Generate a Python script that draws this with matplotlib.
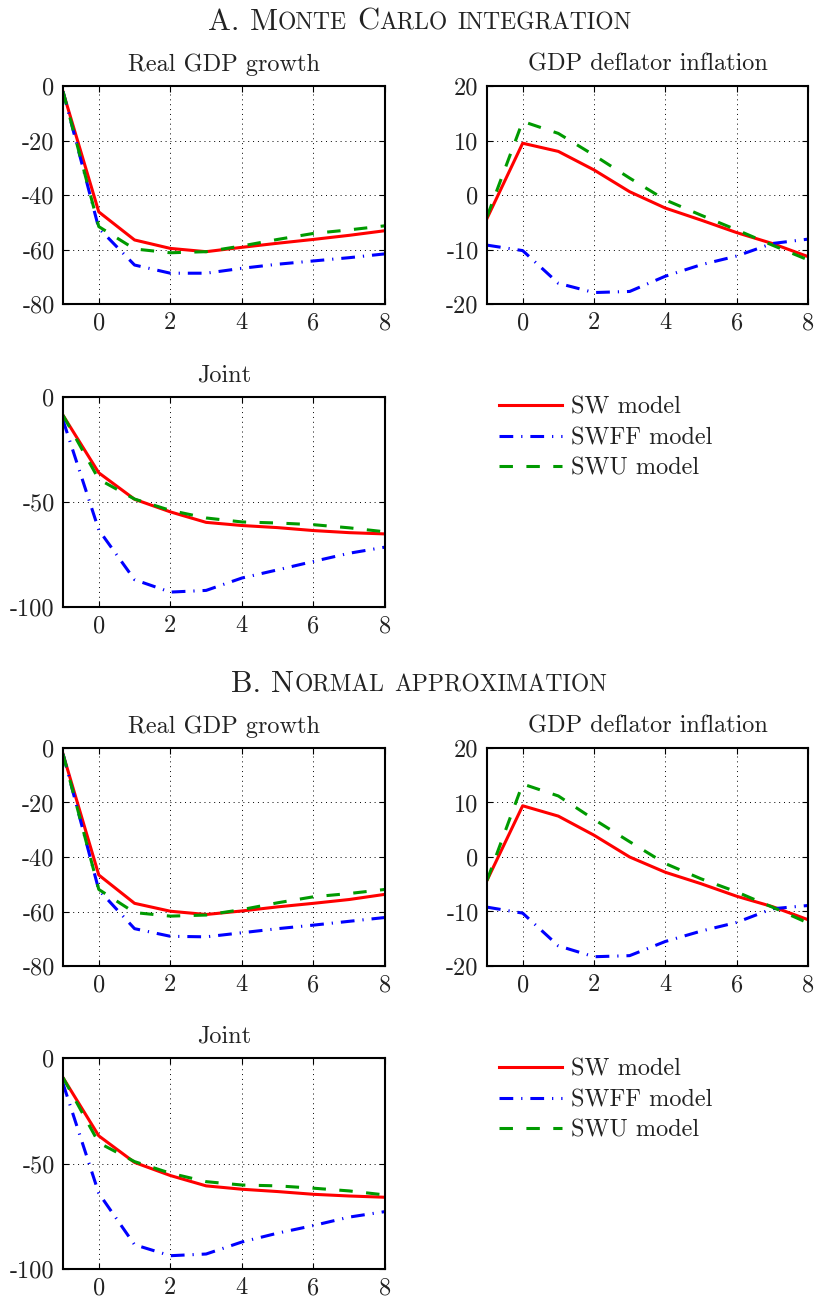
import numpy as np
import matplotlib
matplotlib.use("Agg")
import matplotlib.pyplot as plt
from matplotlib.lines import Line2D

plt.rcParams['font.family'] = ['cmr10', 'DejaVu Serif']
plt.rcParams['axes.unicode_minus'] = False

horizons = [-1, 0, 1, 2, 3, 4, 5, 6, 7, 8]
models = ['SW model', 'SWFF model', 'SWU model']

# A. Monte Carlo integration
gdp_sw_a = [-2.1, -46.2, -56.5, -59.6, -60.8, -59.2, -57.7, -56.3, -54.8, -53.1]
gdp_swff_a = [-2.0, -52.2, -65.7, -68.7, -68.7, -66.9, -65.4, -64.2, -63.0, -61.6]
gdp_swu_a = [-2.0, -51.6, -59.8, -61.2, -60.8, -58.7, -56.3, -54.1, -52.8, -51.3]

inf_sw_a = [-4.3, 9.5, 8.0, 4.6, 0.6, -2.4, -4.6, -6.9, -8.9, -11.3]
inf_swff_a = [-9.2, -10.2, -16.2, -17.9, -17.7, -14.9, -12.8, -11.2, -8.9, -8.1]
inf_swu_a = [-4.0, 13.5, 11.3, 7.3, 3.1, -0.9, -3.7, -6.4, -9.2, -11.9]

joint_sw_a = [-8.7, -36.1, -48.7, -54.7, -59.7, -61.2, -62.2, -63.6, -64.6, -65.2]
joint_swff_a = [-11.0, -63.3, -87.0, -92.9, -92.1, -86.2, -82.3, -78.3, -74.4, -71.5]
joint_swu_a = [-8.7, -39.2, -48.6, -54.0, -57.6, -59.5, -60.0, -60.8, -62.3, -64.2]

# B. Normal approximation
gdp_sw_b = [-2.2, -46.6, -57.0, -59.9, -61.1, -59.8, -58.3, -57.0, -55.6, -53.7]
gdp_swff_b = [-2.2, -52.1, -66.3, -69.1, -69.3, -67.8, -66.3, -65.0, -63.6, -62.2]
gdp_swu_b = [-2.2, -51.9, -60.4, -61.7, -61.3, -59.3, -56.8, -54.6, -53.4, -51.9]

inf_sw_b = [-4.3, 9.4, 7.5, 4.0, 0.0, -2.8, -4.9, -7.2, -9.1, -11.5]
inf_swff_b = [-9.2, -10.3, -16.3, -18.3, -18.1, -15.5, -13.6, -12.0, -9.5, -8.9]
inf_swu_b = [-4.3, 13.4, 11.2, 6.9, 2.8, -1.2, -4.0, -6.4, -9.2, -12.1]

joint_sw_b = [-9.3, -36.9, -49.5, -55.7, -60.6, -62.2, -63.3, -64.6, -65.4, -66.0]
joint_swff_b = [-12.1, -64.1, -88.5, -93.7, -92.9, -87.2, -83.0, -79.4, -75.4, -72.8]
joint_swu_b = [-9.3, -40.2, -49.1, -54.6, -58.6, -60.2, -60.6, -61.7, -63.0, -64.9]

gdp_ticks = [-80, -60, -40, -20, 0]
inf_ticks = [-20, -10, 0, 10, 20]
joint_ticks = [-100, -50, 0]
x_ticks = [0, 2, 4, 6, 8]

colors = ['#ff0000', '#0000ff', '#009a00']
styles = ['-', (0, (4.5, 2.6, 0.4, 2.6)), (0, (4.4, 4.4))]
LW = 2.2
FS = 17.5
TXT = '#222222'

W, H = 814, 1299
fig = plt.figure(figsize=(W / 100, H / 100), dpi=100)


def px_axes(l, t, r, b):
    return fig.add_axes([l / W, 1 - b / H, (r - l) / W, (b - t) / H])


def panel(ax, title, series, yticks):
    for vals, c, ls in zip(series, colors, styles):
        ax.plot(horizons, vals, color=c, linestyle=ls, lw=LW)
    ax.set_xlim(-1, 8)
    ax.set_ylim(yticks[0], yticks[-1])
    ax.set_xticks(x_ticks)
    ax.set_xticklabels([str(v) for v in x_ticks])
    ax.set_yticks(yticks)
    ax.set_yticklabels([str(v) for v in yticks])
    ax.grid(True, color='black', linestyle=(0, (1, 4)), lw=0.7)
    ax.tick_params(direction='in', length=4, width=0.8, top=True, right=True,
                   labelsize=FS, labelcolor=TXT, pad=6)
    for s in ax.spines.values():
        s.set_linewidth(1.5)
    ax.set_title(title, fontsize=FS, color=TXT, pad=11)


def small_caps(text, xc, ybase, big=22, small=17):
    # fake small caps: capitals big, lowercase as smaller capitals
    r = fig.canvas.get_renderer()
    words = text.split(' ')
    pieces = []
    for wi, word in enumerate(words):
        run, up = '', None
        for ch in word:
            u = ch.isupper() or not ch.isalpha()
            if up is None or u == up:
                run += ch
            else:
                pieces.append((run, big if up else small, 0))
                run = ch
            up = u
        pieces.append((run, big if up else small, 1 if wi < len(words) - 1 else 0))
    objs = []
    total = 0
    gap = 0.333 * big * 100 / 72
    for s, sz, sp in pieces:
        t = fig.text(0, ybase, s.upper(), fontsize=sz, color=TXT, va='baseline')
        w = t.get_window_extent(r).width
        objs.append((t, w, sp))
        total += w + sp * gap
    x = xc - total / 2
    for t, w, sp in objs:
        t.set_x(x / W)
        x += w + sp * gap


small_caps('A. Monte Carlo integration', 420, 1 - 30 / H)
small_caps('B. Normal approximation', 419, 1 - 692 / H)

ax1 = px_axes(63, 86, 385, 304)
panel(ax1, 'Real GDP growth', [gdp_sw_a, gdp_swff_a, gdp_swu_a], gdp_ticks)
ax2 = px_axes(487, 86, 808, 304)
panel(ax2, 'GDP deflator inflation', [inf_sw_a, inf_swff_a, inf_swu_a], inf_ticks)
ax3 = px_axes(63, 397, 385, 607)
panel(ax3, 'Joint', [joint_sw_a, joint_swff_a, joint_swu_a], joint_ticks)

ax4 = px_axes(63, 748, 385, 966)
panel(ax4, 'Real GDP growth', [gdp_sw_b, gdp_swff_b, gdp_swu_b], gdp_ticks)
ax5 = px_axes(487, 748, 808, 966)
panel(ax5, 'GDP deflator inflation', [inf_sw_b, inf_swff_b, inf_swu_b], inf_ticks)
ax6 = px_axes(63, 1058, 385, 1269)
panel(ax6, 'Joint', [joint_sw_b, joint_swff_b, joint_swu_b], joint_ticks)

handles = [Line2D([], [], color=c, linestyle=ls, lw=LW) for c, ls in zip(colors, styles)]
for yc in [438, 1100]:
    leg = fig.legend(handles, models, loc='center left', bbox_to_anchor=(499 / W, 1 - yc / H),
                     frameon=False, fontsize=FS, handlelength=2.6, handletextpad=0.35,
                     labelspacing=0.36, borderpad=0, borderaxespad=0)
    for t in leg.get_texts():
        t.set_color(TXT)

fig.savefig('out.png', dpi=100)
